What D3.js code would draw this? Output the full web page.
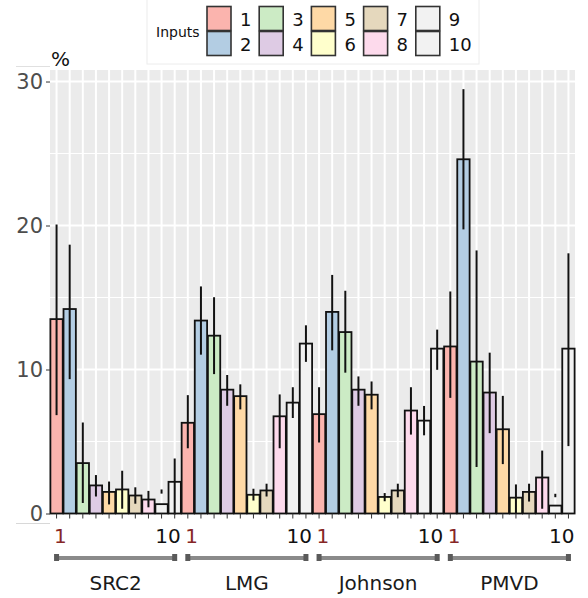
<!DOCTYPE html>
<html>
<head>
<meta charset="utf-8">
<script src="https://cdn.jsdelivr.net/npm/d3@7"></script>
<style>
  body { margin: 0; background: #fff; }
  text { font-family: "DejaVu Sans", sans-serif; }
</style>
</head>
<body>
<div id="chart"></div>
<script>
// data
var methods = ["SRC2", "LMG", "Johnson", "PMVD"];
var inputs = [1, 2, 3, 4, 5, 6, 7, 8, 9, 10];
var colors = ["#FBB4AE", "#B3CDE3", "#CCEBC5", "#DECBE4", "#FED9A6",
              "#FFFFCC", "#E5D8BD", "#FDDAEC", "#F2F2F2", "#F2F2F2"];

var src2Val = [13.5, 14.2, 3.5, 1.95, 1.5, 1.67, 1.25, 0.97, 0.65, 2.2];
var src2Lo  = [6.9, 9.4, 0.8, 1.25, 0.7, 0.4, 0.75, 0.5, 1.45, 0];
var src2Hi  = [20.0, 18.6, 6.25, 2.6, 2.15, 2.9, 1.75, 1.5, 1.6, 3.75];

var lmgVal = [6.3, 13.4, 12.35, 8.6, 8.15, 1.3, 1.6, 6.75, 7.7, 11.8];
var lmgLo  = [4.6, 11.1, 9.75, 7.55, 7.3, 0.97, 1.25, 4.6, 6.7, 10.6];
var lmgHi  = [8.15, 15.7, 14.95, 9.55, 8.9, 1.65, 2.0, 8.2, 8.7, 13.0];

var johnVal = [6.9, 14.0, 12.6, 8.6, 8.25, 1.15, 1.6, 7.15, 6.45, 11.45];
var johnLo  = [5.0, 11.4, 9.85, 7.55, 7.3, 0.92, 1.2, 5.55, 5.5, 10.05];
var johnHi  = [8.7, 16.5, 15.4, 9.45, 9.1, 1.35, 2.0, 8.7, 7.4, 12.7];

var pmvdVal = [11.6, 24.6, 10.55, 8.4, 5.85, 1.1, 1.5, 2.5, 0.55, 11.45];
var pmvdLo  = [8.1, 19.8, 3.3, 5.65, 3.5, 0.1, 0.9, 0.4, 1.2, 4.75];
var pmvdHi  = [15.35, 29.4, 18.2, 11.1, 8.1, 1.95, 2.0, 4.3, 1.3, 18.0];

var yTicks = [0, 10, 20, 30];
var yMinor = [5, 15, 25];

var table = [
  [src2Val, src2Lo, src2Hi],
  [lmgVal, lmgLo, lmgHi],
  [johnVal, johnLo, johnHi],
  [pmvdVal, pmvdLo, pmvdHi]
];

var rows = [];
methods.forEach((m, gi) => {
  inputs.forEach((inp, i) => {
    rows.push({
      key: m + "-" + inp,
      method: m,
      input: inp,
      value: table[gi][0][i],
      lo: table[gi][1][i],
      hi: table[gi][2][i],
      color: colors[i]
    });
  });
});

var width = 588, height = 598;
var panel = { left: 50, right: 575, top: 70, bottom: 513.5 };

var x = d3.scaleBand()
  .domain(rows.map((d) => d.key))
  .range([panel.left, panel.right])
  .paddingInner(0.06)
  .paddingOuter(0.03);
var y = d3.scaleLinear()
  .domain([0, 30.8])
  .range([panel.bottom, panel.top]);
var xc = (d) => x(d.key) + x.bandwidth() / 2;

var svg = d3.select("#chart").append("svg")
  .attr("width", width)
  .attr("height", height);

// faint leftover frame lines
svg.append("rect")
  .attr("x", 147).attr("y", -2).attr("width", 332).attr("height", 66)
  .attr("fill", "none").attr("stroke", "#ececec").attr("stroke-width", 1);
svg.append("line")
  .attr("x1", 16).attr("x2", 50).attr("y1", 66.5).attr("y2", 66.5)
  .attr("stroke", "#e0e0e0");
svg.append("line")
  .attr("x1", 16).attr("x2", 50).attr("y1", 523.5).attr("y2", 523.5)
  .attr("stroke", "#d8d8d8");

// panel
svg.append("rect")
  .attr("x", panel.left).attr("y", panel.top)
  .attr("width", panel.right - panel.left)
  .attr("height", panel.bottom - panel.top)
  .attr("fill", "#EBEBEB");

svg.append("g").selectAll("line")
  .data(yMinor).join("line")
  .attr("x1", panel.left).attr("x2", panel.right)
  .attr("y1", (d) => y(d)).attr("y2", (d) => y(d))
  .attr("stroke", "#fff").attr("stroke-width", 1);
svg.append("g").selectAll("line")
  .data(yTicks).join("line")
  .attr("x1", panel.left).attr("x2", panel.right)
  .attr("y1", (d) => y(d)).attr("y2", (d) => y(d))
  .attr("stroke", "#fff").attr("stroke-width", 2);
svg.append("g").selectAll("line")
  .data(rows).join("line")
  .attr("x1", xc).attr("x2", xc)
  .attr("y1", panel.top).attr("y2", panel.bottom)
  .attr("stroke", "#fff").attr("stroke-width", 2);

// bars
svg.append("g").selectAll("rect")
  .data(rows).join("rect")
  .attr("x", (d) => x(d.key))
  .attr("width", x.bandwidth())
  .attr("y", (d) => y(d.value))
  .attr("height", (d) => y(0) - y(d.value))
  .attr("fill", (d) => d.color)
  .attr("stroke", "#111")
  .attr("stroke-width", 1.8);

// error bars
svg.append("g").selectAll("line")
  .data(rows).join("line")
  .attr("x1", xc).attr("x2", xc)
  .attr("y1", (d) => y(d.hi)).attr("y2", (d) => y(d.lo))
  .attr("stroke", "#111")
  .attr("stroke-width", 2)
  .attr("stroke-linecap", "square");

// y axis
var yAxis = svg.append("g")
  .attr("transform", `translate(${panel.left},0)`)
  .call(d3.axisLeft(y).tickValues(yTicks).tickSize(4).tickPadding(3));
yAxis.select(".domain").remove();
yAxis.selectAll(".tick line").attr("stroke", "#333");
yAxis.selectAll(".tick text")
  .attr("fill", "#4D4D4D")
  .attr("font-size", 21)
  .attr("font-family", "DejaVu Sans, sans-serif");

// x axis ticks
var xAxis = svg.append("g")
  .attr("transform", `translate(0,${panel.bottom})`)
  .call(d3.axisBottom(x).tickSize(5).tickFormat(""));
xAxis.select(".domain").remove();
xAxis.selectAll(".tick line").attr("stroke", "#333");

// x tick labels: 1 and 10
svg.append("g").selectAll("text")
  .data(rows.filter((d) => d.input === 1 || d.input === 10))
  .join("text")
  .attr("x", (d) => (d.input === 1 ? xc(d) - 2.5 : xc(d) + 6))
  .attr("y", 543)
  .attr("text-anchor", (d) => (d.input === 1 ? "start" : "end"))
  .attr("font-size", 20)
  .attr("fill", (d) => (d.input === 1 ? "#862626" : "#111"))
  .text((d) => d.input);

// brackets and method names
methods.forEach((m) => {
  var a = rows.find((d) => d.method === m && d.input === 1);
  var b = rows.find((d) => d.method === m && d.input === 10);
  var g = svg.append("g");
  g.append("line")
    .attr("x1", xc(a)).attr("x2", xc(b))
    .attr("y1", 558).attr("y2", 558)
    .attr("stroke", "#8a8a8a").attr("stroke-width", 4);
  [a, b].forEach((d) => {
    g.append("rect")
      .attr("x", xc(d) - 2.5).attr("y", 554)
      .attr("width", 5).attr("height", 7)
      .attr("fill", "#5a5a5a");
  });
  g.append("text")
    .attr("x", (xc(a) + xc(b)) / 2)
    .attr("y", 590)
    .attr("text-anchor", "middle")
    .attr("font-size", 20)
    .attr("fill", "#1a1a1a")
    .text(m);
});

// "%" label
svg.append("text")
  .attr("x", 51).attr("y", 66)
  .attr("font-size", 20)
  .attr("fill", "#111")
  .text("%");

// legend
var legend = svg.append("g");
legend.append("text")
  .attr("x", 156).attr("y", 37)
  .attr("font-size", 14)
  .attr("fill", "#111")
  .text("Inputs");
var keys = legend.selectAll("g.key")
  .data(inputs).join("g")
  .attr("class", "key")
  .attr("transform", (d, i) =>
    `translate(${207 + Math.floor(i / 2) * 52.2},${i % 2 === 0 ? 6.5 : 31.5})`);
keys.append("rect")
  .attr("width", 24).attr("height", 24)
  .attr("fill", (d, i) => colors[i])
  .attr("stroke", "#333")
  .attr("stroke-width", 1.6);
keys.append("text")
  .attr("x", 33).attr("y", 19)
  .attr("font-size", 18)
  .attr("fill", "#111")
  .text((d) => d);
</script>
</body>
</html>
